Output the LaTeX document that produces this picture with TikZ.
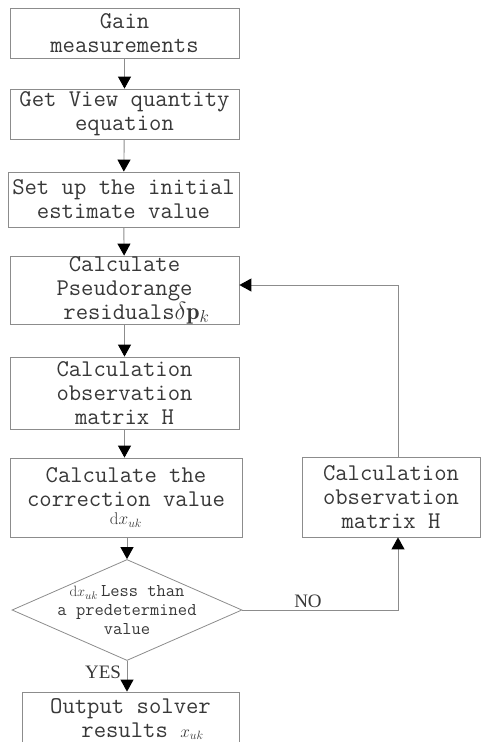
\documentclass[tikz,border=0pt]{standalone}
\usepackage{fontspec}
\newfontfamily\tagfont{Liberation Serif}
\usetikzlibrary{calc,shapes.geometric,arrows.meta}

\begin{document}
\begin{tikzpicture}[x=1pt,y=-1pt,
        box/.style={draw=black!45,line width=0.8pt,align=center,inner sep=0pt,text=black!78,
            font=\ttfamily\fontsize{24}{24}\selectfont},
        small/.style={align=center,inner sep=0pt,text=black!78,
            font=\ttfamily\fontsize{18}{19}\selectfont},
        tag/.style={inner sep=0pt,text=black!78,font=\tagfont\fontsize{19}{20}\selectfont},
        >={Triangle[length=12pt,width=13pt,black]},
        link/.style={->,draw=black!45,line width=0.9pt}]
        \clip (0,0) rectangle (482,742);
        \node (gain) at (124.5,33) [box,minimum width=229,minimum height=50] {Gain\\measurements};
        \node (view) at (124.5,114) [box,minimum width=229,minimum height=50] {Get View quantity\\equation};
        \node (init) at (123.5,199.5) [box,minimum width=231,minimum height=55] {Set up the initial\\estimate value};
        \node (resid) at (124.5,290) [box,minimum width=229,minimum height=68] {Calculate\\Pseudorange\\\hspace*{1em}residuals$\delta\mathbf{p}_{k}$};
        \node (obsH) at (124.5,393) [box,minimum width=229,minimum height=72] {Calculation\\observation\\matrix H};
        \node (corr) at (126,497.5) [box,minimum width=232,minimum height=79] {Calculate the\\correction value\\[-6pt]{\fontsize{17}{17}\selectfont$\mathrm{d}x_{uk}$}};
        \node (dia) at (127,610) [diamond,draw=black!45,line width=0.8pt,minimum width=230,minimum height=101,inner sep=0pt] {};
        \node (diatxt) at (dia) [small] {{\fontsize{15}{15}\selectfont$\mathrm{d}x_{uk}$}\,Less than\\a predetermined\\value};
        \node (out) at (130.5,719) [box,minimum width=217,minimum height=54] {Output solver\\\hspace*{1em}results {\fontsize{17}{17}\selectfont$x_{uk}$}};
        \node (rbox) at (391,497) [box,minimum width=178,minimum height=80] {Calculation\\observation\\matrix H};
        \draw [link] (gain) -- (view);
        \draw [link] (view) -- (init);
        \draw [link] (init) -- (resid);
        \draw [link] (resid) -- (obsH);
        \draw [link] (obsH) -- (corr.north -| obsH);
        \draw [link] (corr.south -| dia) -- (dia);
        \draw [link] (dia.south) -- (dia.south |- out.north);
        \draw [link] (dia.east) -| ($(rbox.south)+(7,0)$);
        \draw [link] ($(rbox.north)+(7,0)$) |- ($(resid.east)+(0,-5)$);
        \node (yes) at (103,672) [tag] {YES};
        \node (no) at (308,601) [tag] {NO};
    \end{tikzpicture}
\end{document}
